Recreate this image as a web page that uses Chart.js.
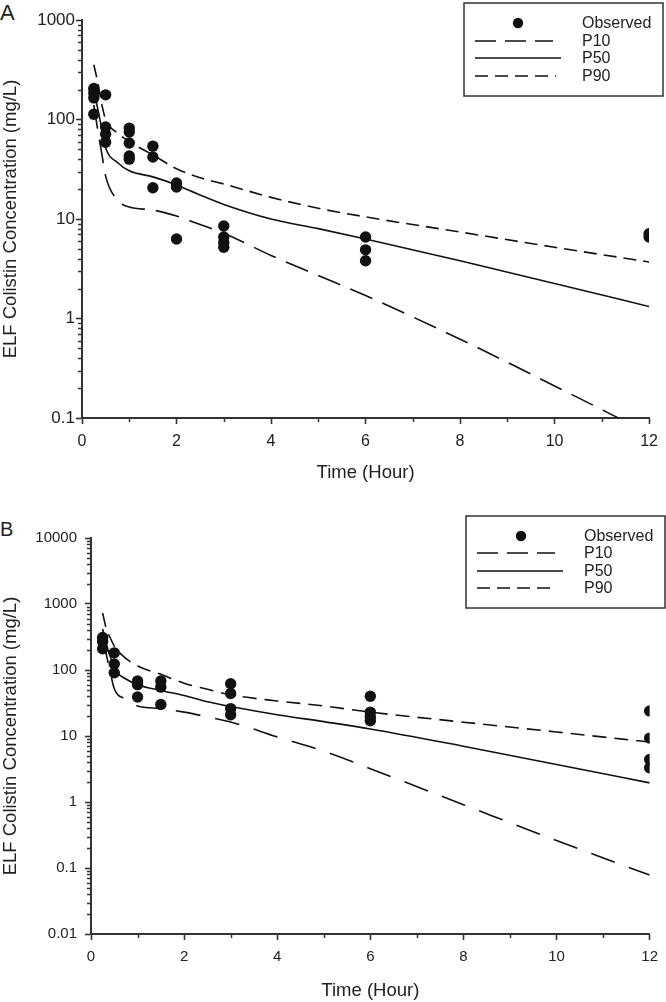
<!DOCTYPE html>
<html>
<head>
<meta charset="utf-8">
<script src="https://cdn.jsdelivr.net/npm/chart.js@4.4.1/dist/chart.umd.min.js"></script>
<style>
  body { margin: 0; background: #fff; }
  #wrap { position: relative; width: 666px; height: 1002px; font-family: "Liberation Sans", Arial, sans-serif; color: #222; }
  .panel { position: absolute; left: 0; line-height: 1; }
  canvas { position: absolute; left: 0; }
</style>
</head>
<body>
<div id="wrap">
  <div class="panel" style="top:2px;font-size:22px">A</div>
  <canvas id="chartA" width="666" height="484" style="top:0"></canvas>
  <div class="panel" style="top:519px;font-size:20px">B</div>
  <canvas id="chartB" width="666" height="502" style="top:500px"></canvas>
</div>
<script>
// panel A - observed
var obsTimeA = [0.25, 0.25, 0.25, 0.25, 0.5, 0.5, 0.5, 0.5, 1, 1, 1, 1, 1, 1.5, 1.5, 1.5, 2, 2, 2, 3, 3, 3, 3, 6, 6, 6, 12, 12];
var obsConcA = [205, 185, 165, 113, 177, 84, 71, 59, 82, 75, 58, 43, 40, 54, 42, 20.6, 23, 21, 6.3, 8.5, 6.6, 5.8, 5.2, 6.6, 4.9, 3.8, 7.1, 6.6];
// panel A - percentiles
var timeA = [0.25, 0.33, 0.42, 0.5, 0.75, 1, 1.5, 2, 2.5, 3, 4, 5, 6, 8, 10, 12];
var p10A = [140, 80, 45, 27, 15.5, 13.2, 12.3, 10.7, 8.8, 7.2, 4.3, 2.7, 1.7, 0.62, 0.21, 0.07];
var p50A = [200, 130, 80, 52, 37, 30.5, 26.5, 22, 17.4, 14, 10, 8, 6.3, 3.8, 2.25, 1.32];
var p90A = [355, 240, 141, 100, 73, 60, 44, 32, 26, 22.5, 16.5, 12.8, 10.5, 7.4, 5.2, 3.7];

// panel B - observed
var obsTimeB = [0.25, 0.25, 0.25, 0.5, 0.5, 0.5, 1, 1, 1, 1.5, 1.5, 1.5, 3, 3, 3, 3, 6, 6, 6, 6, 12, 12, 12, 12];
var obsConcB = [310, 270, 210, 182, 123, 91, 68, 60, 39, 68, 55, 30, 62, 44, 26, 21, 40, 23, 19.5, 17, 24, 9.3, 4.4, 3.3];
// panel B - percentiles
var timeB = [0.25, 0.33, 0.42, 0.5, 0.75, 1, 1.5, 2, 2.5, 3, 4, 5, 6, 8, 10, 12];
var p10B = [300, 170, 88, 52, 36, 28.5, 26, 23, 19.5, 16.3, 9.7, 5.9, 3.2, 0.91, 0.26, 0.078];
var p50B = [420, 240, 155, 105, 73, 60, 49, 41, 33, 28, 21, 16.5, 12.8, 7, 3.7, 1.95];
var p90B = [730, 420, 300, 230, 150, 115, 86, 63, 51, 42, 34, 28.5, 23, 16.2, 11.5, 8.1];

var yTicksA = [0.1, 1, 10, 100, 1000];
var yTicksB = [0.01, 0.1, 1, 10, 100, 1000, 10000];
var xTicks = [0, 2, 4, 6, 8, 10, 12];
var seriesLabels = ['Observed', 'P10', 'P50', 'P90'];

var FONT = '"Liberation Sans", Arial, sans-serif';
var AXIS = '#333';

function pts(xs, ys) {
    return xs.map(function (x, i) { return {x: x, y: ys[i]}; });
}

// small ticks between the labelled ones
var minorTicks = {
    id: 'minorTicks',
    afterDraw: function (chart) {
        var ctx = chart.ctx, xs = chart.scales.x, ys = chart.scales.y;
        ctx.save();
        ctx.strokeStyle = AXIS;
        ctx.lineWidth = 1.5;
        ctx.beginPath();
        for (var d = ys.min; d < ys.max * 0.99; d *= 10) {
            for (var k = 2; k < 10; k++) {
                var py = Math.round(ys.getPixelForValue(k * d)) + 0.5;
                ctx.moveTo(ys.right, py);
                ctx.lineTo(ys.right - 4, py);
            }
        }
        for (var t = 1; t < 12; t += 2) {
            var px = Math.round(xs.getPixelForValue(t)) + 0.5;
            ctx.moveTo(px, xs.top);
            ctx.lineTo(px, xs.top + 4);
        }
        ctx.stroke();
        ctx.restore();
    }
};

// boxed legend in the top right corner
var boxLegend = {
    id: 'boxLegend',
    afterDraw: function (chart, args, o) {
        var ctx = chart.ctx;
        ctx.save();
        ctx.strokeStyle = AXIS;
        ctx.lineWidth = 1.5;
        ctx.strokeRect(o.x, o.y, o.w, o.h);
        chart.data.datasets.forEach(function (ds, i) {
            var y = o.rows[i];
            if (ds.showLine) {
                ctx.beginPath();
                ctx.setLineDash(o.dash[i]);
                ctx.lineWidth = ds.borderWidth;
                ctx.strokeStyle = ds.borderColor;
                ctx.moveTo(o.lineX, y);
                ctx.lineTo(o.lineEnd[i], y);
                ctx.stroke();
                ctx.setLineDash([]);
            } else {
                ctx.beginPath();
                ctx.fillStyle = ds.backgroundColor;
                ctx.arc(o.dotX, y, 5.2, 0, Math.PI * 2);
                ctx.fill();
            }
            ctx.fillStyle = '#222';
            ctx.font = '16px ' + FONT;
            ctx.textBaseline = 'middle';
            ctx.textAlign = 'left';
            ctx.fillText(ds.label, o.textX, y + 1);
        });
        ctx.restore();
    }
};

function makeChart(id, c) {
    var ctx = document.getElementById(id).getContext('2d');
    return new Chart(ctx, {
        type: 'scatter',
        data: {
            datasets: [
                {label: seriesLabels[0], data: pts(c.obsT, c.obsC), pointRadius: 5.7, backgroundColor: '#111', borderWidth: 0, pointHoverRadius: 5.7},
                {label: seriesLabels[1], data: pts(c.t, c.p10), showLine: true, pointRadius: 0, borderColor: '#111', borderWidth: 1.6, borderDash: c.dash10, cubicInterpolationMode: 'monotone'},
                {label: seriesLabels[2], data: pts(c.t, c.p50), showLine: true, pointRadius: 0, borderColor: '#111', borderWidth: 1.6, cubicInterpolationMode: 'monotone'},
                {label: seriesLabels[3], data: pts(c.t, c.p90), showLine: true, pointRadius: 0, borderColor: '#111', borderWidth: 1.6, borderDash: c.dash90, cubicInterpolationMode: 'monotone'}
            ]
        },
        options: {
            responsive: false,
            animation: false,
            devicePixelRatio: 1,
            layout: {padding: {top: c.padTop, right: c.padRight, bottom: 0, left: 0}},
            plugins: {
                legend: {display: false},
                tooltip: {enabled: false},
                boxLegend: c.legend
            },
            scales: {
                x: {
                    type: 'linear', min: 0, max: 12,
                    afterBuildTicks: function (s) { s.ticks = xTicks.map(function (v) { return {value: v}; }); },
                    afterFit: function (s) { s.height = c.xHeight; },
                    grid: {drawOnChartArea: false, drawTicks: true, tickLength: 6, tickColor: AXIS, tickWidth: 1.6},
                    border: {display: true, color: AXIS, width: 2},
                    ticks: {color: '#222', padding: 8, maxRotation: 0, font: {family: FONT, size: c.xTickSize}},
                    title: {display: true, text: 'Time (Hour)', color: '#222', padding: {top: 0, bottom: 0}, font: {family: FONT, size: 18.5}}
                },
                y: {
                    type: 'logarithmic', min: c.yTicks[0], max: c.yTicks[c.yTicks.length - 1],
                    afterBuildTicks: function (s) { s.ticks = c.yTicks.map(function (v) { return {value: v}; }); },
                    afterFit: function (s) { s.width = c.yWidth; },
                    grid: {drawOnChartArea: false, drawTicks: true, tickLength: 6, tickColor: AXIS, tickWidth: 1.6},
                    border: {display: true, color: AXIS, width: 2},
                    ticks: {color: '#222', padding: c.yPad, font: {family: FONT, size: c.yTickSize}, callback: function (v) { return String(v); }},
                    title: {display: true, text: 'ELF Colistin Concentration (mg/L)', color: '#222', padding: {top: 0, bottom: 0}, font: {family: FONT, size: 18.5}}
                }
            }
        },
        plugins: [minorTicks, boxLegend]
    });
}

makeChart('chartA', {
    obsT: obsTimeA, obsC: obsConcA, t: timeA, p10: p10A, p50: p50A, p90: p90A,
    yTicks: yTicksA, dash10: [24, 11], dash90: [13, 7],
    padTop: 20, padRight: 14, xHeight: 66, yWidth: 82, yPad: 1, yTickSize: 17, xTickSize: 16,
    legend: {x: 464, y: 3, w: 199, h: 93, rows: [23, 41, 58, 76], dotX: 518, lineX: 475, lineEnd: [0, 553, 561, 556], textX: 582,
             dash: [[], [21, 9], [], [13, 7]]}
});

makeChart('chartB', {
    obsT: obsTimeB, obsC: obsConcB, t: timeB, p10: p10B, p50: p50B, p90: p90B,
    yTicks: yTicksB, dash10: [25, 15], dash90: [14, 8],
    padTop: 38, padRight: 9, xHeight: 68, yWidth: 91, yPad: 8, yTickSize: 15, xTickSize: 15,
    legend: {x: 466, y: 16, w: 199, h: 92, rows: [36, 53, 71, 88], dotX: 521, lineX: 477, lineEnd: [0, 555, 563, 556], textX: 584,
             dash: [[], [21, 9], [], [13, 7]]}
});
</script>
</body>
</html>
